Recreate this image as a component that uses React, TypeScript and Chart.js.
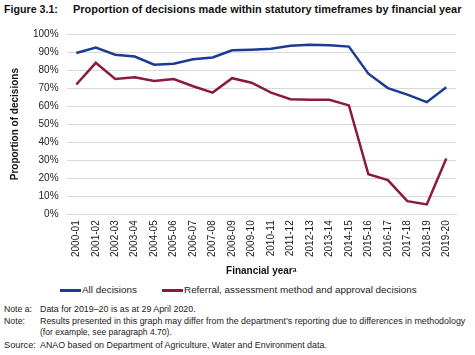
import React, { useEffect, useLayoutEffect, useRef } from "react";
import { Chart, registerables } from "chart.js";

Chart.register(...registerables);

const years = [
  "2000-01", "2001-02", "2002-03", "2003-04", "2004-05", "2005-06", "2006-07",
  "2007-08", "2008-09", "2009-10", "2010-11", "2011-12", "2012-13", "2013-14",
  "2014-15", "2015-16", "2016-17", "2017-18", "2018-19", "2019-20",
];
const allDecisions = [
  89.5, 92.5, 88.5, 87.5, 83, 83.5, 86, 87, 91, 91.3, 91.8, 93.5, 94, 93.7,
  93, 78, 70, 66.4, 62.2, 70.5,
];
const referralDecisions = [
  72, 84, 75, 76, 74, 75, 71, 67.5, 75.5, 73, 67.5, 63.8, 63.5, 63.5, 60.4,
  22.2, 19, 7.3, 5.5, 31,
];
const seriesNames = [
  "All decisions",
  "Referral, assessment method and approval decisions",
];
const seriesColors = ["#1b3b94", "#8a1a3e"];

const FONT = "'Liberation Sans', Arial, sans-serif";

function Fit(props: {
  text: string;
  width: number;
  left: number;
  cy: number;
  base: number;
  bold?: boolean;
}) {
  const ref = useRef<HTMLSpanElement | null>(null);
  useLayoutEffect(() => {
    const el = ref.current;
    if (!el) return;
    el.style.fontSize = props.base + "px";
    const w = el.getBoundingClientRect().width;
    if (w > 0) el.style.fontSize = (props.base * props.width) / w + "px";
  }, []);
  return (
    <span
      ref={ref}
      style={{
        position: "absolute",
        left: props.left,
        top: props.cy - 7,
        height: 14,
        lineHeight: "14px",
        fontFamily: FONT,
        fontWeight: props.bold ? "bold" : "normal",
        color: props.bold ? "#111" : "#222",
        whiteSpace: "nowrap",
      }}
    >
      {props.text}
    </span>
  );
}

function LegendLine(props: { left: number; cy: number; color: string }) {
  return (
    <div
      style={{
        position: "absolute",
        left: props.left,
        top: props.cy - 1,
        width: 21,
        height: 2.5,
        background: props.color,
      }}
    />
  );
}

export default function App() {
  const ref = useRef<HTMLCanvasElement | null>(null);
  useEffect(() => {
    if (!ref.current) return;
    const chart = new Chart(ref.current, {
      type: "line",
      data: {
        labels: years,
        datasets: [
          {
            label: seriesNames[0],
            data: allDecisions,
            borderColor: seriesColors[0],
            backgroundColor: seriesColors[0],
            borderWidth: 2.5,
            pointRadius: 0,
            tension: 0,
          },
          {
            label: seriesNames[1],
            data: referralDecisions,
            borderColor: seriesColors[1],
            backgroundColor: seriesColors[1],
            borderWidth: 2.5,
            pointRadius: 0,
            tension: 0,
          },
        ],
      },
      options: {
        animation: false,
        responsive: false,
        maintainAspectRatio: false,
        layout: { padding: { top: 6, right: 19, left: 4, bottom: 0 } },
        plugins: {
          legend: { display: false },
          tooltip: { enabled: false },
        },
        scales: {
          x: {
            offset: true,
            grid: { display: false, drawTicks: false },
            border: { display: true, color: "#d9d9d9" },
            ticks: {
              minRotation: 90,
              maxRotation: 90,
              autoSkip: false,
              color: "#222",
              font: { family: FONT, size: 10 },
              padding: 6,
            },
            title: {
              display: true,
              text: "Financial yearᵃ",
              color: "#111",
              font: { family: FONT, size: 10, weight: "bold" },
              padding: { top: 2, bottom: 0 },
            },
          },
          y: {
            min: 0,
            max: 100,
            ticks: {
              stepSize: 10,
              callback: (v: any) => v + "%",
              color: "#222",
              font: { family: FONT, size: 10 },
              padding: 8,
            },
            grid: { color: "#d9d9d9", drawTicks: false },
            border: { display: false },
            title: {
              display: true,
              text: "Proportion of decisions",
              color: "#111",
              font: { family: FONT, size: 10, weight: "bold" },
              padding: { top: 5, bottom: 4 },
            },
          },
        },
      },
    });
    return () => chart.destroy();
  }, []);

  return (
    <div
      style={{
        position: "fixed",
        left: 0,
        top: 0,
        width: 475,
        height: 355,
        background: "#fff",
        overflow: "hidden",
      }}
    >
      <Fit text="Figure 3.1:" left={4} width={54} cy={9} base={11} bold />
      <Fit
        text="Proportion of decisions made within statutory timeframes by financial year"
        left={73}
        width={389}
        cy={9}
        base={11}
        bold
      />
      <canvas
        ref={ref}
        width={475}
        height={257}
        style={{ position: "absolute", left: 0, top: 20, width: 475, height: 257 }}
      />
      <LegendLine left={60} cy={290} color={seriesColors[0]} />
      <Fit text={seriesNames[0]} left={82} width={55} cy={290} base={10} />
      <LegendLine left={162} cy={290} color={seriesColors[1]} />
      <Fit text={seriesNames[1]} left={184} width={233} cy={290} base={10} />
      <Fit text="Note a:" left={4} width={28} cy={309} base={10} />
      <Fit text="Data for 2019–20 is as at 29 April 2020." left={40} width={156} cy={309} base={10} />
      <Fit text="Note:" left={4} width={21} cy={321} base={10} />
      <Fit
        text="Results presented in this graph may differ from the department’s reporting due to differences in methodology"
        left={40}
        width={426}
        cy={321}
        base={10}
      />
      <Fit text="(for example, see paragraph 4.70)." left={40} width={132} cy={332} base={10} />
      <Fit text="Source:" left={4} width={32} cy={345} base={10} />
      <Fit
        text="ANAO based on Department of Agriculture, Water and Environment data."
        left={40}
        width={287}
        cy={345}
        base={10}
      />
    </div>
  );
}
